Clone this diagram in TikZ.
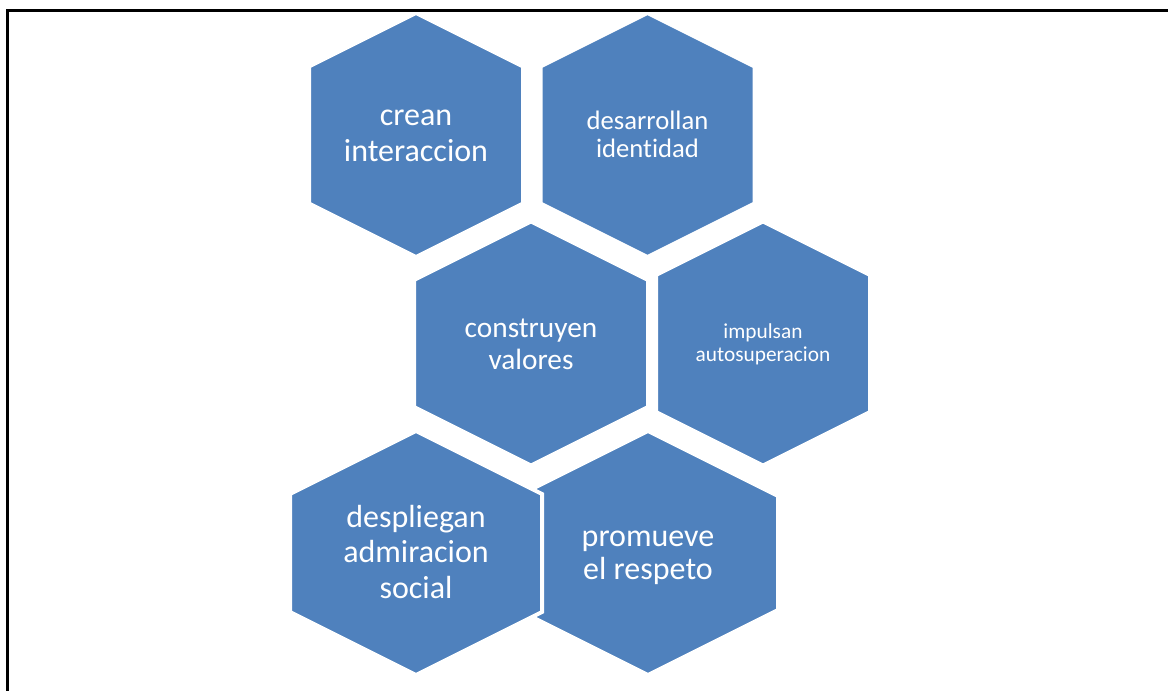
\documentclass[tikz,border=0pt]{standalone}
\usepackage{fontspec}
\setmainfont{Carlito}[Ligatures=NoCommon]
\definecolor{hexblue}{HTML}{4F81BD}
\begin{document}
\begin{tikzpicture}[x=0.75pt, y=-0.75pt,
	hexcell/.style={fill=hexblue, draw=white, line width=3pt, line join=miter},
	hexlabel/.style={text=white, align=center, inner sep=0pt},
	frameline/.style={draw=black, line width=1.9pt}
]
\useasboundingbox (0,0) rectangle (1168,691);
% cells: name/centre x/centre y/half width/text shift/font size/line skip/text
\foreach \nm/\cx/\cy/\hw/\dy/\fs/\sk/\txt in {
		crean/416/135/107/1/24/27/{crean\\interaccion},
		desarrollan/647.5/135/107/-1/20/21/{desarrollan\\identidad},
		construyen/531/343.5/117/0.5/22/24/{construyen\\valores},
		impulsan/763/343.5/107/1/16/17.5/{impulsan\\autosuperacion},
		promueve/648/553/130/5/24/25/{promueve\\el respeto},
		despliegan/416/553/126/-1/24/26.5/{despliegan\\admiracion\\social}} {
		\pgfmathsetmacro\hb{0.5*\hw}
		\draw[hexcell] (\cx,\cy-122) -- (\cx+\hw,\cy-122+\hb) -- (\cx+\hw,\cy+122-\hb)
			-- (\cx,\cy+122) -- (\cx-\hw,\cy+122-\hb) -- (\cx-\hw,\cy-122+\hb) -- cycle;
		\node[hexlabel, font=\fontsize{\fs}{\sk}\selectfont] (\nm) at (\cx,\cy+\dy) {\txt};
	}
\draw[frameline] (7.5,691) -- (7.5,10.3) -- (1168,10.3);
\end{tikzpicture}
\end{document}
